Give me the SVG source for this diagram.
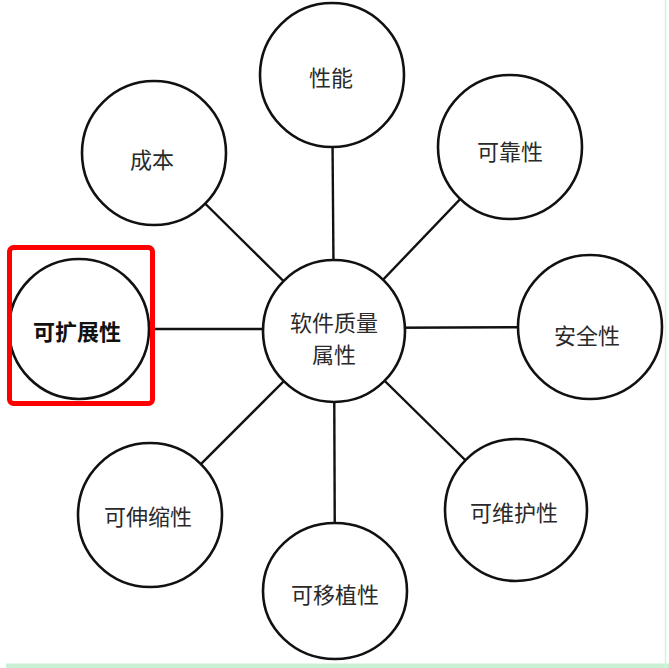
<svg xmlns="http://www.w3.org/2000/svg" width="669" height="668" viewBox="0 0 669 668">
<style>
.n{fill:#fff;stroke:#111;stroke-width:2.6}
.t{font-family:"Noto Sans CJK SC","Noto Sans",sans-serif;font-size:22px;fill:#2a2a2a;text-anchor:middle;dominant-baseline:central}
.b{font-weight:bold;fill:#111}
.c line{stroke:#111;stroke-width:2.4}
</style>
<rect width="669" height="668" fill="#fff"/>
<rect x="6" y="663.5" width="663" height="4.5" fill="#c9f0d3"/>
<line x1="665.5" y1="0" x2="665.5" y2="668" stroke="#d6f3de" stroke-width="1.5"/>
<g id="connectors" class="c">
<line x1="334" y1="331" x2="332" y2="75"/>
<line x1="334" y1="331" x2="510" y2="147"/>
<line x1="334" y1="328" x2="590" y2="327"/>
<line x1="334" y1="331" x2="516" y2="510"/>
<line x1="334" y1="331" x2="335" y2="591"/>
<line x1="334" y1="331" x2="150" y2="515"/>
<line x1="334" y1="329" x2="79" y2="329"/>
<line x1="334" y1="331" x2="154" y2="153"/>
</g>
<g id="center"><circle class="n" cx="334" cy="331" r="71"/><text class="t" x="334" y="321">软件质量</text><text class="t" x="334" y="353">属性</text></g>
<g id="performance"><circle class="n" cx="332" cy="75" r="72"/><text class="t" x="331" y="76">性能</text></g>
<g id="reliability"><circle class="n" cx="510" cy="147" r="72"/><text class="t" x="510" y="150">可靠性</text></g>
<g id="security"><circle class="n" cx="590" cy="327" r="72"/><text class="t" x="587" y="334">安全性</text></g>
<g id="maintainability"><circle class="n" cx="516" cy="510" r="71"/><text class="t" x="514" y="511">可维护性</text></g>
<g id="portability"><ellipse class="n" cx="335" cy="591" rx="72" ry="68"/><text class="t" x="335" y="593">可移植性</text></g>
<g id="scalability"><circle class="n" cx="150" cy="515" r="72"/><text class="t" x="148" y="515">可伸缩性</text></g>
<g id="extensibility"><circle class="n" cx="79" cy="329" r="70"/><text class="t b" x="77" y="330">可扩展性</text><rect x="9.5" y="247.5" width="143" height="156" rx="4" fill="none" stroke="#f00" stroke-width="5"/></g>
<g id="cost"><circle class="n" cx="154" cy="153" r="72"/><text class="t" x="152" y="158">成本</text></g>
</svg>
